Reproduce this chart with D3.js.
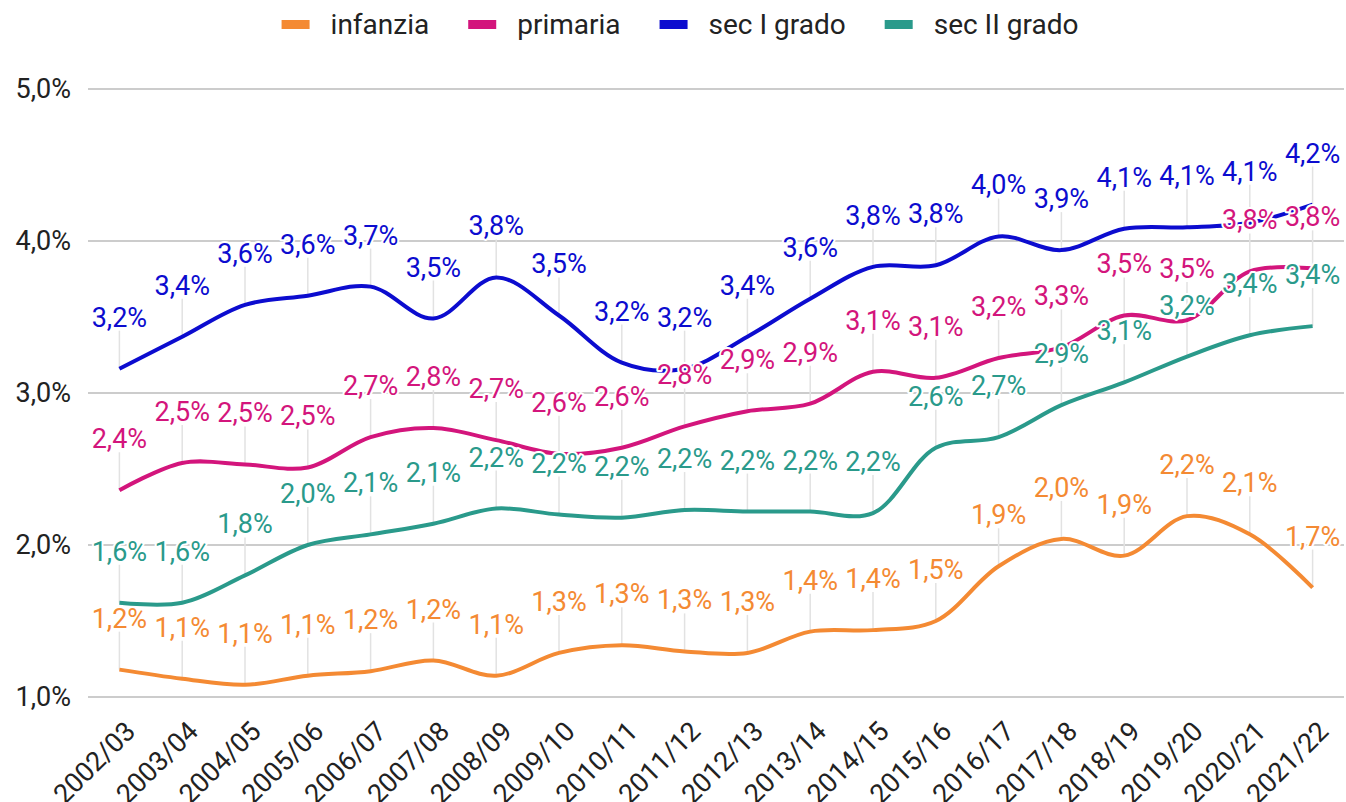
<!DOCTYPE html>
<html>
<head>
<meta charset="utf-8">
<script src="https://cdn.jsdelivr.net/npm/d3@7"></script>
<style>
  html, body { margin: 0; padding: 0; background: #fff; }
  svg { display: block; font-family: Roboto, "Noto Sans", sans-serif; }
</style>
</head>
<body>
<svg id="chart" width="1346" height="802"></svg>
<script>
// ---- data ----
const years = ["2002/03","2003/04","2004/05","2005/06","2006/07","2007/08","2008/09","2009/10","2010/11","2011/12",
               "2012/13","2013/14","2014/15","2015/16","2016/17","2017/18","2018/19","2019/20","2020/21","2021/22"];
const seriesNames = ["infanzia", "primaria", "sec I grado", "sec II grado"];
const seriesColors = ["#f48a33", "#d3157c", "#0c0ccf", "#2a9a8b"];
const infanzia   = [1.18,1.12,1.08,1.14,1.17,1.24,1.14,1.29,1.34,1.30,1.29,1.43,1.44,1.50,1.86,2.04,1.93,2.19,2.07,1.72];
const primaria   = [2.36,2.54,2.53,2.51,2.71,2.77,2.69,2.60,2.64,2.78,2.88,2.93,3.14,3.10,3.23,3.30,3.51,3.48,3.80,3.82];
const secIgrado  = [3.16,3.37,3.58,3.64,3.70,3.49,3.76,3.51,3.20,3.16,3.37,3.62,3.83,3.84,4.03,3.94,4.08,4.09,4.12,4.24];
const secIIgrado = [1.62,1.62,1.80,2.00,2.07,2.14,2.24,2.20,2.18,2.23,2.22,2.22,2.21,2.64,2.71,2.92,3.07,3.24,3.38,3.44];
const yTicks = [1, 2, 3, 4, 5];

const seriesValues = [infanzia, primaria, secIgrado, secIIgrado];
const fmt = v => v.toFixed(1).replace(".", ",") + "%";

// ---- layout ----
const svg = d3.select("#chart");
const plotLeft = 88, plotRight = 1344, plotTop = 89, plotBottom = 697;

const x = d3.scalePoint().domain(years).range([plotLeft, plotRight]).padding(0.5);
const y = d3.scaleLinear().domain([1, 5]).range([plotBottom, plotTop]);

// gridlines
svg.append("g").selectAll("line").data(yTicks).join("line")
  .attr("x1", plotLeft).attr("x2", plotRight)
  .attr("y1", d => y(d)).attr("y2", d => y(d))
  .attr("stroke", "#cccccc").attr("stroke-width", 2);

// y axis labels
const yAxis = d3.axisLeft(y).tickValues(yTicks).tickSize(0).tickPadding(0)
  .tickFormat(d => d.toFixed(1).replace(".", ",") + "%");
const gy = svg.append("g").attr("transform", `translate(71,0)`).call(yAxis);
gy.select(".domain").remove();
gy.selectAll("text").attr("font-size", 27).attr("fill", "#222").attr("font-family", "Roboto");

// x axis labels
const xAxis = d3.axisBottom(x).tickSize(0).tickPadding(0);
const gx = svg.append("g").attr("transform", `translate(0,${plotBottom})`).call(xAxis);
gx.select(".domain").remove();
gx.selectAll("text")
  .attr("font-size", 27).attr("fill", "#222").attr("font-family", "Roboto")
  .attr("text-anchor", "end").attr("dy", 0)
  .attr("transform", "translate(17,36) rotate(-45)");

// stems
const stemLen = 38, labelOffset = 42;
const stems = svg.append("g");
seriesValues.forEach(vals => {
  stems.selectAll(null).data(vals).join("line")
    .attr("x1", (d, i) => x(years[i])).attr("x2", (d, i) => x(years[i]))
    .attr("y1", d => y(d)).attr("y2", d => y(d) - stemLen)
    .attr("stroke", "#e2e2e2").attr("stroke-width", 1.5);
});

// lines
const line = d3.line()
  .x((d, i) => x(years[i]))
  .y(d => y(d))
  .curve(d3.curveCatmullRom.alpha(0.5));
seriesValues.forEach((vals, k) => {
  svg.append("path").datum(vals)
    .attr("d", line)
    .attr("fill", "none")
    .attr("stroke", seriesColors[k])
    .attr("stroke-width", 4)
    .attr("stroke-linejoin", "round");
});

// annotations
seriesValues.forEach((vals, k) => {
  svg.append("g").selectAll("text").data(vals).join("text")
    .attr("x", (d, i) => x(years[i]))
    .attr("y", d => y(d) - labelOffset)
    .attr("text-anchor", "middle")
    .attr("font-size", 27)
    .attr("font-family", "Roboto")
    .attr("fill", seriesColors[k])
    .attr("stroke", "#fff").attr("stroke-width", 4)
    .attr("stroke-linejoin", "round")
    .attr("paint-order", "stroke")
    .text(d => fmt(d));
});

// legend
const legend = svg.append("g");
const items = legend.selectAll("g").data(seriesNames).join("g");
items.append("rect").attr("width", 28).attr("height", 9).attr("y", 20)
  .attr("fill", (d, i) => seriesColors[i]);
items.append("text").attr("x", 49).attr("y", 34)
  .attr("font-size", 28).attr("fill", "#222").attr("font-family", "Roboto")
  .text(d => d);
const widths = [];
items.each(function() {
  widths.push(49 + this.querySelector("text").getComputedTextLength());
});
const gap = 39;
const total = d3.sum(widths) + gap * (widths.length - 1);
let start = 680 - total / 2;
items.attr("transform", (d, i) => {
  const tx = start;
  start += widths[i] + gap;
  return `translate(${tx},0)`;
});
</script>
</body>
</html>
